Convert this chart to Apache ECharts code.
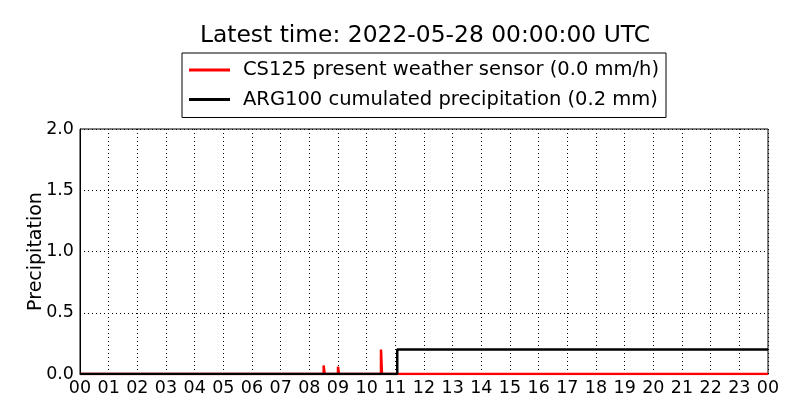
<!DOCTYPE html>
<html>
<head>
<meta charset="utf-8">
<script src="https://cdn.jsdelivr.net/npm/echarts@6/dist/echarts.min.js"></script>
<style>html,body{margin:0;padding:0;background:#fff}#c{width:800px;height:420px}</style>
</head>
<body>
<div id="c"></div>
<script>
// Title and legend texts
const titleText = 'Latest time: 2022-05-28 00:00:00 UTC';
const cs125Name = 'CS125 present weather sensor (0.0 mm/h)';
const argName = 'ARG100 cumulated precipitation (0.2 mm)';
const yAxisName = 'Precipitation';
// Hour tick labels 00..23, 00
const hourLabels = ['00','01','02','03','04','05','06','07','08','09','10','11','12','13','14','15','16','17','18','19','20','21','22','23','00'];
// CS125 present weather sensor: minutes since 00:00 and intensity (sample-and-hold)
const cs125Minutes = [0, 510, 512, 540, 542, 630, 632, 1440];
const cs125Values  = [0, 0.07, 0, 0.06, 0, 0.2, 0, 0];
// ARG100 cumulated precipitation: minutes since 00:00 and cumulative amount
const argMinutes = [0, 664, 1440];
const argValues  = [0, 0.2, 0.2];
// y ticks
const yTicks = ['0.0','0.5','1.0','1.5','2.0'];

const font = 'DejaVu Sans';
const toSeries = (mins, vals) => mins.map((m, i) => [m / 60, vals[i]]);

const chart = echarts.init(document.getElementById('c'), null, {renderer: 'canvas'});
chart.setOption({
  animation: false,
  backgroundColor: '#fff',
  title: {
    text: titleText,
    left: 420, textAlign: 'center', top: 19,
    textStyle: {fontFamily: font, fontSize: 23.4, fontWeight: 'normal', color: '#000'}
  },
  legend: {
    orient: 'vertical', left: 182, top: 53,
    selectedMode: false,
    borderColor: '#000', borderWidth: 1, borderRadius: 0,
    padding: [7, 7, 8, 7],
    itemGap: 9.5,
    icon: 'rect', itemWidth: 41, itemHeight: 3,
    textStyle: {fontFamily: font, fontSize: 19.5, color: '#000', padding: [0, 0, 0, 8]},
    data: [cs125Name, argName]
  },
  grid: {left: 80, right: 32, top: 129, bottom: 46, show: true, borderColor: '#000', borderWidth: 1},
  xAxis: {
    type: 'value', min: 0, max: 24, interval: 1,
    axisLine: {show: true, lineStyle: {color: '#000'}},
    axisTick: {show: false},
    axisLabel: {fontFamily: font, fontSize: 17.5, color: '#000', margin: 5,
      formatter: v => hourLabels[Math.round(v)]},
    splitLine: {show: true, lineStyle: {color: '#000', type: [1, 3], width: 1}}
  },
  yAxis: {
    type: 'value', min: 0, max: 2, interval: 0.5,
    name: yAxisName, nameLocation: 'middle', nameGap: 34, nameRotate: 90,
    nameMoveOverlap: false,
    nameTextStyle: {fontFamily: font, fontSize: 19, color: '#000'},
    axisLine: {show: true, lineStyle: {color: '#000'}},
    axisTick: {show: false},
    axisLabel: {fontFamily: font, fontSize: 17.5, color: '#000', margin: 6,
      formatter: v => yTicks[Math.round(v * 2)]},
    splitLine: {show: true, lineStyle: {color: '#000', type: [1, 3], width: 1}}
  },
  series: [
    {name: cs125Name, type: 'line', step: 'end', symbol: 'none', color: '#ff0000',
     lineStyle: {color: '#ff0000', width: 2.5}, data: toSeries(cs125Minutes, cs125Values), z: 2},
    {name: argName, type: 'line', step: 'end', symbol: 'none', color: '#000000',
     lineStyle: {color: '#000000', width: 2.5}, data: toSeries(argMinutes, argValues), z: 3}
  ]
});
</script>
</body>
</html>
